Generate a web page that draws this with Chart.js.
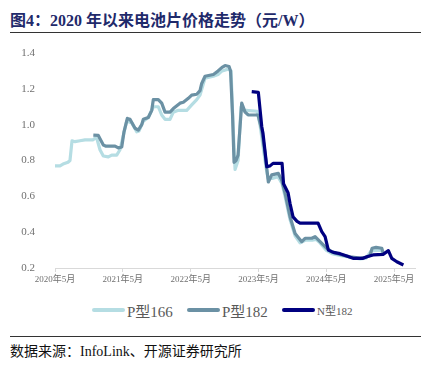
<!DOCTYPE html>
<html>
<head>
<meta charset="utf-8">
<script src="https://cdn.jsdelivr.net/npm/chart.js@4/dist/chart.umd.min.js"></script>
<style>
  html, body { margin: 0; padding: 0; background: #fff; }
  body { width: 429px; height: 372px; position: relative; overflow: hidden; font-family: "Liberation Serif", "Noto Sans CJK SC", serif; }
  #title { position: absolute; left: 10px; top: 7px; font-size: 16px; font-weight: bold; color: #1F2A6B; white-space: nowrap; }
  #rule1 { position: absolute; left: 10px; top: 32px; width: 411px; height: 1px; background: #333; }
  #wrap { position: absolute; left: 0; top: 0; width: 429px; height: 300px; }
  #legend { position: absolute; left: 0; top: 300px; width: 429px; height: 20px; }
  .item { position: absolute; top: 0; height: 20px; display: flex; align-items: center; white-space: nowrap; color: #595959; }
  .swatch { display: inline-block; width: 33px; height: 4px; border-radius: 2px; margin-right: 2px; }
  #rule2 { position: absolute; left: 10px; top: 336px; width: 411px; height: 1px; background: #333; }
  #source { position: absolute; left: 10px; top: 340px; font-size: 14px; color: #111; white-space: nowrap; }
</style>
</head>
<body>
<div id="title">图4：2020 年以来电池片价格走势（元/W）</div>
<div id="rule1"></div>
<div id="wrap"><canvas id="c" width="429" height="300"></canvas></div>
<div id="legend"></div>
<div id="rule2"></div>
<div id="source">数据来源：InfoLink、开源证券研究所</div>
<script>
// x values: months since May 2020
const seriesNames = ['P型166', 'P型182', 'N型182'];
const xTickLabels = ['2020年5月', '2021年5月', '2022年5月', '2023年5月', '2024年5月', '2025年5月'];
const yTickValues = [0.2, 0.4, 0.6, 0.8, 1.0, 1.2, 1.4];

const p166Months = [0.0, 0.88, 1.42, 2.30, 2.65, 3.01, 3.54, 4.42, 5.31, 6.73, 7.08, 7.43, 7.96, 8.55, 9.43, 10.04, 10.92, 11.50, 12.09, 12.69, 13.58, 14.46, 14.87, 15.63, 16.51, 17.40, 18.28, 18.88, 19.47, 20.35, 20.94, 21.82, 23.31, 24.19, 25.08, 25.66, 26.55, 28.02, 28.85, 29.56, 30.62, 31.15, 31.50, 31.86, 32.39, 32.92, 33.27, 33.81, 35.75, 36.28, 36.81, 37.35, 37.70, 38.41, 39.47, 40.18, 40.71, 41.59, 42.48, 43.36, 44.25, 45.49, 46.19, 46.90, 47.96, 49.03, 50.44, 52.21, 53.98, 55.04, 55.93, 57.70, 58.05];
const p166Prices = [0.77, 0.77, 0.78, 0.79, 0.80, 0.91, 0.905, 0.91, 0.915, 0.915, 0.925, 0.92, 0.86, 0.825, 0.82, 0.83, 0.83, 0.86, 0.94, 1.02, 1.01, 0.96, 0.965, 1.02, 1.04, 1.10, 1.10, 1.054, 1.03, 1.03, 1.07, 1.08, 1.08, 1.11, 1.14, 1.165, 1.26, 1.27, 1.28, 1.30, 1.31, 1.30, 1.00, 0.75, 0.80, 1.10, 1.08, 1.08, 1.075, 1.00, 0.88, 0.76, 0.70, 0.70, 0.71, 0.67, 0.60, 0.47, 0.38, 0.34, 0.355, 0.355, 0.36, 0.34, 0.30, 0.28, 0.27, 0.26, 0.25, 0.255, 0.295, 0.30, 0.28];

const p182Months = [6.78, 7.66, 8.55, 9.03, 10.62, 11.20, 11.81, 12.21, 12.80, 13.27, 14.16, 14.74, 15.35, 15.63, 16.51, 17.12, 17.40, 18.28, 18.88, 19.47, 20.35, 20.94, 22.12, 22.71, 23.59, 24.19, 25.08, 25.66, 25.96, 26.55, 28.02, 28.32, 28.85, 29.56, 30.09, 30.80, 31.06, 31.42, 31.68, 32.04, 32.39, 33.04, 33.63, 34.16, 35.93, 36.58, 37.17, 37.75, 38.35, 39.52, 40.12, 40.71, 41.59, 42.48, 43.66, 44.25, 45.43, 46.02, 46.90, 48.09, 48.97, 50.44, 52.21, 53.98, 55.04, 55.75, 56.11, 56.81, 57.82, 58.05];
const p182Prices = [0.942, 0.94, 0.886, 0.88, 0.88, 0.87, 0.875, 0.96, 1.035, 1.03, 0.98, 0.97, 1.00, 1.03, 1.04, 1.08, 1.14, 1.14, 1.12, 1.07, 1.07, 1.09, 1.12, 1.125, 1.147, 1.165, 1.17, 1.19, 1.23, 1.27, 1.28, 1.287, 1.30, 1.32, 1.33, 1.325, 1.30, 1.05, 0.79, 0.80, 0.83, 1.12, 1.07, 1.055, 1.054, 0.97, 0.84, 0.68, 0.72, 0.728, 0.69, 0.617, 0.486, 0.393, 0.347, 0.366, 0.366, 0.375, 0.347, 0.31, 0.29, 0.275, 0.262, 0.255, 0.26, 0.27, 0.31, 0.315, 0.31, 0.285];

const n182Months = [34.81, 35.98, 36.58, 36.81, 37.47, 38.05, 38.58, 40.18, 40.44, 41.24, 41.59, 42.12, 42.83, 43.36, 46.55, 47.20, 47.79, 48.37, 49.26, 50.44, 51.63, 52.74, 54.51, 55.17, 56.28, 58.05, 58.99, 59.59, 60.48, 61.65];
const n182Prices = [1.184, 1.18, 0.99, 0.95, 0.765, 0.77, 0.784, 0.784, 0.67, 0.62, 0.56, 0.485, 0.46, 0.45, 0.45, 0.403, 0.375, 0.30, 0.287, 0.28, 0.267, 0.254, 0.254, 0.263, 0.273, 0.276, 0.297, 0.254, 0.235, 0.217];

const colors = ['#B5DDE3', '#6B91A4', '#000080'];
const legendFontSizes = [15, 15, 11];

function pts(xs, ys) { return xs.map((x, i) => ({ x: x, y: ys[i] })); }

const datasets = [
  { label: seriesNames[0], data: pts(p166Months, p166Prices), borderColor: colors[0], order: 3 },
  { label: seriesNames[1], data: pts(p182Months, p182Prices), borderColor: colors[1], order: 2 },
  { label: seriesNames[2], data: pts(n182Months, n182Prices), borderColor: colors[2], order: 1 }
].map(d => Object.assign(d, { borderWidth: 3.2, pointRadius: 0, tension: 0, fill: false, borderJoinStyle: 'round', borderCapStyle: 'butt' }));

const chart = new Chart(document.getElementById('c'), {
  type: 'line',
  data: { datasets: datasets },
  options: {
    responsive: false,
    animation: false,
    devicePixelRatio: 1,
    layout: { padding: { top: 53, right: 14, left: 0, bottom: 0 } },
    plugins: { legend: { display: false }, tooltip: { enabled: false } },
    scales: {
      x: {
        type: 'linear', min: 0, max: 63.7,
        afterFit: s => { s.height = 32; },
        afterBuildTicks: s => { s.ticks = xTickLabels.map((_, i) => ({ value: i * 12 })); },
        ticks: {
          autoSkip: false, maxRotation: 0, padding: 2,
          font: { family: "'Liberation Serif', 'Noto Sans CJK SC'", size: 9 }, color: '#707070',
          callback: v => xTickLabels[Math.round(v / 12)]
        },
        grid: { display: true, drawOnChartArea: false, drawTicks: true, tickLength: 4, color: '#D9D9D9' },
        border: { display: true, color: '#D9D9D9', width: 1 }
      },
      y: {
        type: 'linear', min: 0.2, max: 1.4,
        afterFit: s => { s.width = 55; },
        afterBuildTicks: s => { s.ticks = yTickValues.map(v => ({ value: v })); },
        ticks: {
          padding: 12,
          font: { family: "'Liberation Serif', 'Noto Sans CJK SC'", size: 11 }, color: '#707070',
          callback: v => v.toFixed(1)
        },
        grid: { display: false },
        border: { display: false }
      }
    }
  }
});

// legend from the chart's datasets
const legend = document.getElementById('legend');
const lefts = [92, 187, 282];
chart.data.datasets.forEach((d, i) => {
  const item = document.createElement('div');
  item.className = 'item';
  item.style.left = lefts[i] + 'px';
  item.style.fontSize = legendFontSizes[i] + 'px';
  const sw = document.createElement('span');
  sw.className = 'swatch';
  sw.style.background = d.borderColor;
  item.appendChild(sw);
  item.appendChild(document.createTextNode(d.label));
  legend.appendChild(item);
});
</script>
</body>
</html>
